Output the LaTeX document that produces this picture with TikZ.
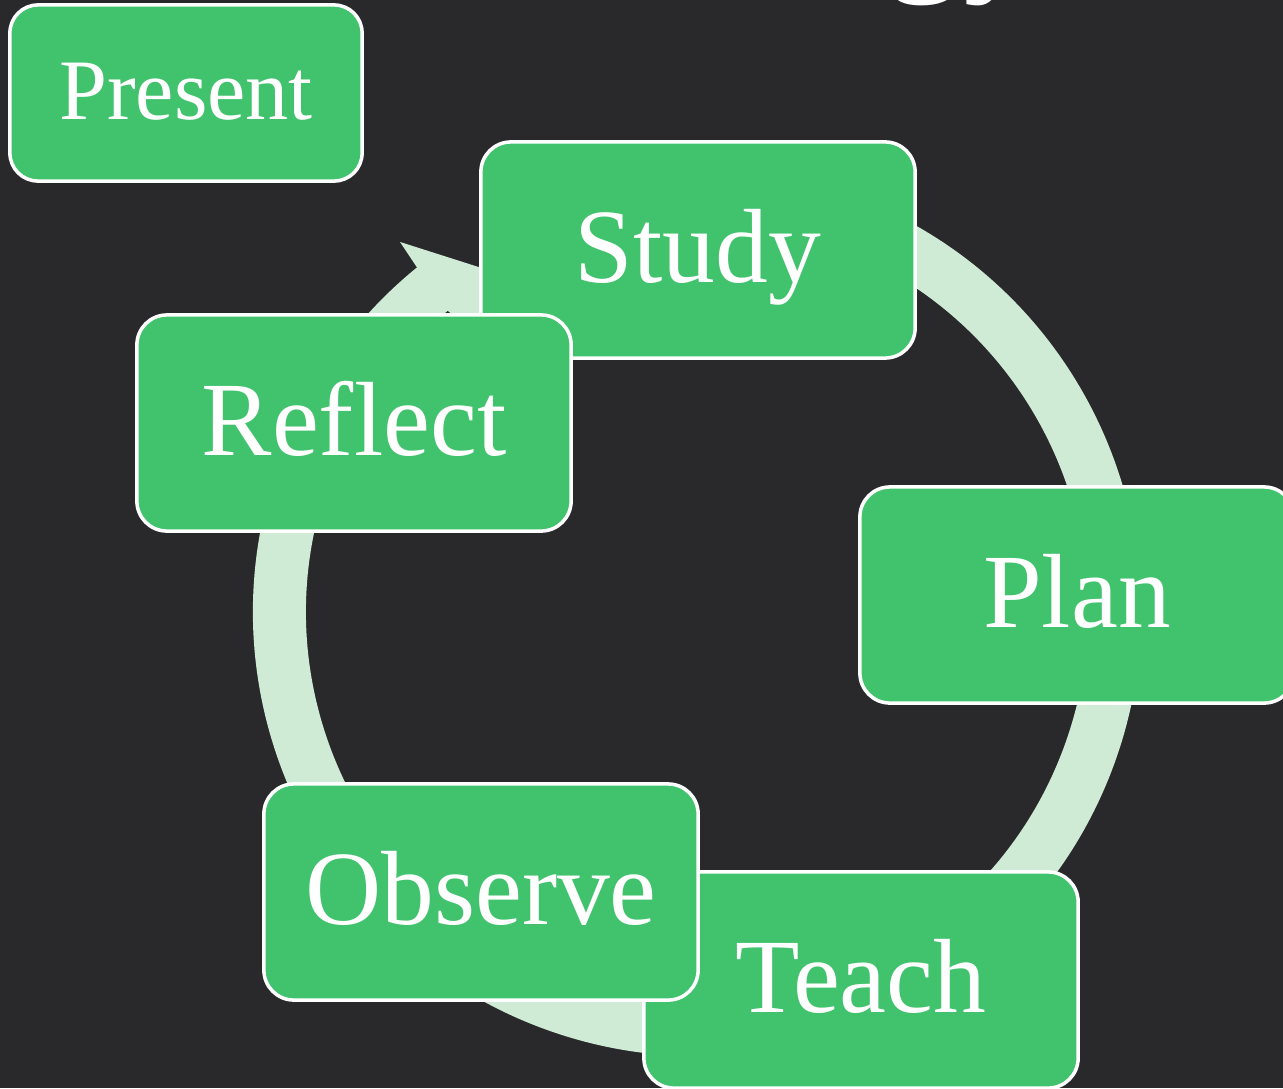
\documentclass[tikz,border=0pt]{standalone}
\usepackage{fontspec}
\setmainfont{Liberation Serif}
\usetikzlibrary{calc}
\definecolor{board}{HTML}{29292B}
\definecolor{leaf}{HTML}{41C36E}
\definecolor{mint}{HTML}{CFEAD5}

\begin{document}
\begin{tikzpicture}[x=0.01cm, y=-0.01cm,
        box/.style={draw=white, line width=1pt, fill=leaf, text=white,
            rounded corners=0.3cm, minimum width=4.34cm, minimum height=2.16cm,
            inner sep=0pt, font=\fontsize{30}{36}\selectfont,
            text height=20.4pt, text depth=1.8pt}]
        \fill[board] (0,0) rectangle (1283,1088);
        \useasboundingbox (0,0) rectangle (1283,1088);

        % title, cut off by the top edge
        \node[anchor=base west, inner sep=0pt, text=white, font=\fontsize{44}{50}\selectfont] (title) at (885,-27) {gy};

        % the cycle ring and its head
        \coordinate (c) at (697,612);
        \draw[mint, line width=0.53cm] ($(c)+(-70:417.5)$) arc[start angle=-70, end angle=231, radius=417.5];
        \fill[mint] ($(c)+(230.9:444)$) -- ($(c)+(231.25:474.5)$) -- (535,285)
            -- ($(c)+(231.2:360.5)$) -- ($(c)+(230.4:391)$) -- cycle;

        \node[box, minimum width=3.52cm, minimum height=1.76cm, rounded corners=0.28cm,
            font=\fontsize{24.5}{30}\selectfont, text height=16.7pt, text depth=1.5pt] (present) at (186,93) {Present};
        \foreach \n/\x/\y/\t in {study/698/250/Study, plan/1077/595/Plan, teach/861/980/Teach,
                observe/481/892/Observe, reflect/354/423/Reflect} {
            \node[box] (\n) at (\x,\y) {\t};
        }
    \end{tikzpicture}
\end{document}
